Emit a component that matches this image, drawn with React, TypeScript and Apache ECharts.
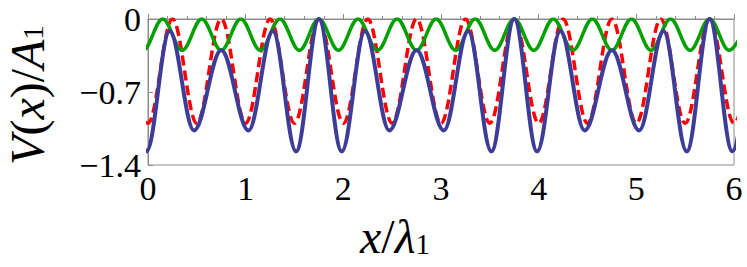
import React, { useEffect, useRef } from "react";
import * as echarts from "echarts";

// x-axis / y-axis ticks
const xTicks = [0, 1, 2, 3, 4, 5, 6];
const yTicks = [0, -0.7, -1.4];

// Extrema (curves drawn smoothly between them)
// Red dashed: V1
const redX = [-0.25, 0, 0.25, 0.5, 0.75, 1, 1.25, 1.5, 1.75, 2, 2.25, 2.5, 2.75, 3, 3.25, 3.5, 3.75, 4, 4.25, 4.5, 4.75, 5, 5.25, 5.5, 5.75, 6, 6.25];
const redY = [0, -1, 0, -1, 0, -1, 0, -1, 0, -1, 0, -1, 0, -1, 0, -1, 0, -1, 0, -1, 0, -1, 0, -1, 0, -1, 0];

// Green: V2
const greenX = [-0.25, -0.05, 0.15, 0.35, 0.55, 0.75, 0.95, 1.15, 1.35, 1.55, 1.75, 1.95, 2.15, 2.35, 2.55, 2.75, 2.95, 3.15, 3.35, 3.55, 3.75, 3.95, 4.15, 4.35, 4.55, 4.75, 4.95, 5.15, 5.35, 5.55, 5.75, 5.95, 6.15];
const greenY = [0, -0.3, 0, -0.3, 0, -0.3, 0, -0.3, 0, -0.3, 0, -0.3, 0, -0.3, 0, -0.3, 0, -0.3, 0, -0.3, 0, -0.3, 0, -0.3, 0, -0.3, 0, -0.3, 0, -0.3, 0, -0.3, 0];

// Blue: total
const blueX = [-0.25, -0.016, 0.222, 0.471, 0.75, 1.029, 1.278, 1.516, 1.75, 1.984, 2.222, 2.471, 2.75, 3.029, 3.278, 3.516, 3.75, 3.984, 4.222, 4.471, 4.75, 5.029, 5.278, 5.516, 5.75, 5.984, 6.222, 6.471];
const blueY = [0, -1.269, -0.116, -1.069, -0.3, -1.069, -0.116, -1.269, 0, -1.269, -0.116, -1.069, -0.3, -1.069, -0.116, -1.269, 0, -1.269, -0.116, -1.069, -0.3, -1.069, -0.116, -1.269, 0, -1.269, -0.116, -1.069];

const zip = (xs: number[], ys: number[]) => xs.map((x, i) => [x, ys[i]]);

const SERIF = "Liberation Serif, Times New Roman, serif";
const GRAY = "#8c8c8c";

export default function App() {
  const ref = useRef<HTMLDivElement>(null);
  useEffect(() => {
    if (!ref.current) return;
    const chart = echarts.init(ref.current, undefined, { renderer: "svg" });
    const richY = {
      i: { fontFamily: SERIF, fontSize: 48, fontStyle: "italic", color: "#000", lineHeight: 40 },
      r: { fontFamily: SERIF, fontSize: 48, color: "#000", lineHeight: 40 },
      s: { fontFamily: SERIF, fontSize: 29, color: "#000", lineHeight: 14, verticalAlign: "bottom" },
    };
    const richX = {
      i: { fontFamily: SERIF, fontSize: 48, fontStyle: "italic", color: "#000", lineHeight: 44 },
      r: { fontFamily: SERIF, fontSize: 48, color: "#000", lineHeight: 44 },
      s: { fontFamily: SERIF, fontSize: 29, color: "#000", lineHeight: 16, verticalAlign: "bottom" },
    };
    chart.setOption({
      animation: false,
      grid: {
        left: 148,
        right: 13,
        top: 19,
        bottom: 102,
        show: true,
        borderColor: GRAY,
        borderWidth: 1,
        backgroundColor: "transparent",
      },
      xAxis: {
        type: "value",
        min: xTicks[0],
        max: xTicks[xTicks.length - 1],
        interval: 1,
        axisLine: { show: true, lineStyle: { color: GRAY, width: 1 } },
        axisTick: { show: true, inside: true, length: 5, lineStyle: { color: GRAY } },
        minorTick: { show: true, splitNumber: 5, length: 3, lineStyle: { color: GRAY } },
        splitLine: { show: false },
        axisLabel: {
          fontFamily: SERIF,
          fontSize: 34,
          color: "#000",
          margin: 6,
          formatter: (v: number) => String(v),
        },
      },
      yAxis: {
        type: "value",
        min: yTicks[2],
        max: yTicks[0],
        interval: 0.7,
        axisLine: { show: true, lineStyle: { color: GRAY, width: 1 } },
        axisTick: { show: true, inside: true, length: 5, lineStyle: { color: GRAY } },
        splitLine: { show: false },
        axisLabel: {
          fontFamily: SERIF,
          fontSize: 34,
          color: "#000",
          margin: 7,
          formatter: (v: number) => (Math.abs(v) < 1e-9 ? "0" : "\u2212" + Math.abs(v).toFixed(1)),
        },
      },
      series: [
        {
          type: "line",
          data: zip(redX, redY),
          showSymbol: false,
          smooth: 0.36,
          smoothMonotone: "x",
          clip: true,
          lineStyle: { color: "#ff0000", width: 3.5, type: [10, 5] },
          z: 2,
        },
        {
          type: "line",
          data: zip(greenX, greenY),
          showSymbol: false,
          smooth: 0.36,
          smoothMonotone: "x",
          clip: true,
          lineStyle: { color: "#00a000", width: 3.5 },
          z: 3,
        },
        {
          type: "line",
          data: zip(blueX, blueY),
          showSymbol: false,
          smooth: 0.36,
          smoothMonotone: "x",
          clip: true,
          lineStyle: { color: "#3d3d99", width: 4 },
          z: 4,
        },
      ],
      graphic: [
        {
          type: "text",
          x: 27,
          y: 95,
          rotation: Math.PI / 2,
          style: {
            text: "{i|V}{r|(}{i|x}{r|)/}{i|A}{s|1}",
            rich: richY,
            align: "center",
            verticalAlign: "middle",
          },
        },
        {
          type: "text",
          x: 395,
          y: 236,
          style: {
            text: "{i|x}{r|/}{i|\u03bb}{s|1}",
            rich: richX,
            align: "center",
            verticalAlign: "middle",
          },
        },
      ],
    });
    return () => chart.dispose();
  }, []);
  return (
    <div
      ref={ref}
      style={{ position: "fixed", left: 0, top: 0, width: 747, height: 267, background: "#fff" }}
    />
  );
}
